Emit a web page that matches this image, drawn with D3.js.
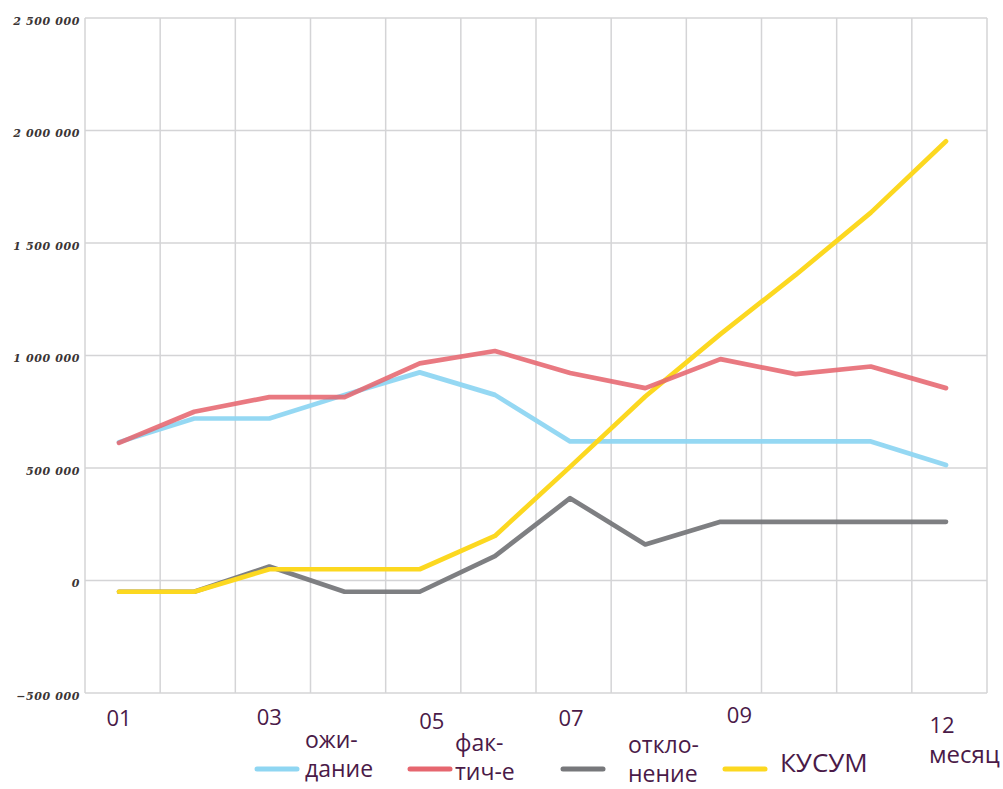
<!DOCTYPE html>
<html>
<head>
<meta charset="utf-8">
<script src="https://cdn.jsdelivr.net/npm/d3@7/dist/d3.min.js"></script>
<style>
  html, body { margin: 0; padding: 0; background: #fff; }
  svg { display: block; }
</style>
</head>
<body>
<svg id="chart" width="1003" height="789"></svg>
<script>
// Monthly plan vs. actual, deviation and cumulative sum (CUSUM)
const months = ["01", "02", "03", "04", "05", "06", "07", "08", "09", "10", "11", "12"];
const expected  = [615000, 720000, 720000, 825000, 925000, 825000, 618000, 618000, 618000, 618000, 618000, 513000];
const actual    = [612000, 750000, 815000, 815000, 965000, 1020000, 922000, 855000, 984000, 917000, 951000, 855000];
const deviation = [-50000, -50000, 62000, -50000, -50000, 108000, 366000, 160000, 261000, 261000, 261000, 261000];
const cusum     = [-50000, -50000, 50000, 50000, 50000, 198000, 505000, 818000, 1095000, 1358000, 1635000, 1952000];

const yTicks = [-500000, 0, 500000, 1000000, 1500000, 2000000, 2500000];
const xTickMonths = ["01", "03", "05", "07", "09", "12"];
const xAxisTitle = "месяц";

const seriesNames = [["ожи-", "дание"], ["фак-", "тич-е"], ["откло-", "нение"], ["КУСУМ"]];

const svg = d3.select("#chart");
const plot = { left: 85, right: 987, top: 18, bottom: 693 };

const y = d3.scaleLinear().domain([-500000, 2500000]).range([plot.bottom, plot.top]);
const x = d3.scalePoint().domain(months).range([119, 946]);
// vertical grid divides the plot into 12 equal columns
const gx = d3.scaleLinear().domain([0, 12]).range([plot.left, plot.right]);

// grid
const grid = svg.append("g").attr("stroke", "#d4d4d6").attr("stroke-width", 1.5);
grid.selectAll("line.h").data(yTicks).join("line")
  .attr("x1", plot.left).attr("x2", plot.right)
  .attr("y1", d => y(d)).attr("y2", d => y(d));
grid.selectAll("line.v").data(d3.range(13)).join("line")
  .attr("x1", d => gx(d)).attr("x2", d => gx(d))
  .attr("y1", plot.top).attr("y2", plot.bottom);

// y axis labels
const fmt = v => d3.format(",")(v).replace(/,/g, " ");
const yAxis = d3.axisLeft(y).tickValues(yTicks).tickFormat(fmt).tickSize(0).tickPadding(5);
const ya = svg.append("g").attr("transform", `translate(${plot.left},0)`).call(yAxis);
ya.select(".domain").remove();
ya.selectAll("text")
  .attr("dy", "0.55em")
  .attr("fill", "#3b3535")
  .style("font-family", "'DejaVu Serif', serif")
  .style("font-weight", "bold")
  .style("font-style", "italic")
  .style("font-size", "11px")
  .style("letter-spacing", "0.6px");

// series lines
const line = d3.line().x((d, i) => x(months[i])).y(d => y(d));
const series = [
  { values: expected,  color: "#8fd6f2", opacity: 0.95 },
  { values: deviation, color: "#77787b", opacity: 0.95 },
  { values: cusum,     color: "#fcd820", opacity: 1 },
  { values: actual,    color: "#e6666f", opacity: 0.88 }
];
svg.append("g").selectAll("path").data(series).join("path")
  .attr("d", d => line(d.values))
  .attr("fill", "none")
  .attr("stroke", d => d.color)
  .attr("stroke-opacity", d => d.opacity)
  .attr("stroke-width", 4.7)
  .attr("stroke-linejoin", "round")
  .attr("stroke-linecap", "round");

// month labels under the plot
const textColor = "#4a1a48";
const tickNudge = { "01": [0, 726], "03": [0, 725], "05": [12, 729], "07": [1, 726], "09": [19, 723], "12": [-4, 733] };
svg.append("g").selectAll("text").data(xTickMonths).join("text")
  .attr("x", d => x(d) + tickNudge[d][0])
  .attr("y", d => tickNudge[d][1])
  .attr("text-anchor", "middle")
  .attr("fill", textColor)
  .style("font-family", "'Open Sans', sans-serif")
  .style("font-size", "22px")
  .text(d => d);
svg.append("text")
  .attr("x", x("12") - 17).attr("y", 763)
  .attr("fill", textColor)
  .style("font-family", "'Open Sans', sans-serif")
  .style("font-size", "24px")
  .text(xAxisTitle);

// legend: a swatch and one or two lines of text per series
const legendColors = ["#8fd6f2", "#e6666f", "#77787b", "#fcd820"];
const legendItems = [
  { sx: 257, tx: 305, base: 748 },
  { sx: 410, tx: 455, base: 751 },
  { sx: 563, tx: 628, base: 753 },
  { sx: 725, tx: 780, base: 772 }
];
const lg = svg.append("g").selectAll("g").data(legendItems).join("g");
lg.append("line")
  .attr("x1", d => d.sx).attr("x2", d => d.sx + 40)
  .attr("y1", 769).attr("y2", 769)
  .attr("stroke", (d, i) => legendColors[i])
  .attr("stroke-width", 5)
  .attr("stroke-linecap", "round");
lg.each(function (d, i) {
  const g = d3.select(this);
  seriesNames[i].forEach((s, k) => {
    g.append("text")
      .attr("x", d.tx).attr("y", d.base + k * 29)
      .attr("fill", textColor)
      .style("font-family", "'Open Sans', sans-serif")
      .style("font-size", seriesNames[i].length === 1 ? "26px" : "23px")
      .text(s);
  });
});
</script>
</body>
</html>
